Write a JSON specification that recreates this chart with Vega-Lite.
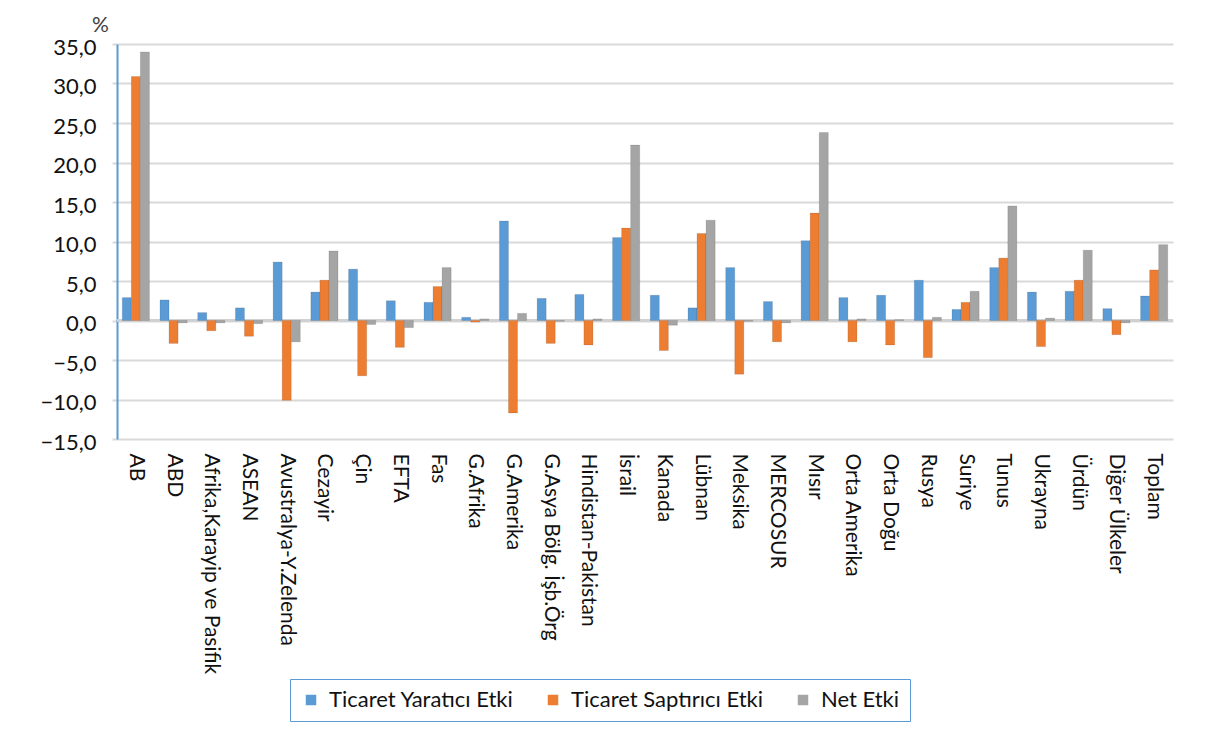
{
  "$schema": "https://vega.github.io/schema/vega-lite/v6.json",
  "width": 1056,
  "height": 395,
  "autosize": {"type": "none"},
  "padding": {"left": 117, "top": 44, "right": 42, "bottom": 299},
  "background": "white",
  "config": {
    "font": "Lato",
    "view": {"stroke": null}
  },
  "data": {
    "values": [
      {"Bölge": "AB", "Yaratici": 2.9, "Saptirici": 30.9, "Net": 34.0},
      {"Bölge": "ABD", "Yaratici": 2.6, "Saptirici": -2.9, "Net": -0.3},
      {"Bölge": "Afrika,Karayip ve Pasifik", "Yaratici": 1.0, "Saptirici": -1.3, "Net": -0.3},
      {"Bölge": "ASEAN", "Yaratici": 1.6, "Saptirici": -2.0, "Net": -0.4},
      {"Bölge": "Avustralya-Y.Zelenda", "Yaratici": 7.4, "Saptirici": -10.1, "Net": -2.7},
      {"Bölge": "Cezayir", "Yaratici": 3.6, "Saptirici": 5.1, "Net": 8.8},
      {"Bölge": "Çin", "Yaratici": 6.5, "Saptirici": -7.0, "Net": -0.5},
      {"Bölge": "EFTA", "Yaratici": 2.5, "Saptirici": -3.4, "Net": -0.9},
      {"Bölge": "Fas", "Yaratici": 2.3, "Saptirici": 4.3, "Net": 6.7},
      {"Bölge": "G.Afrika", "Yaratici": 0.4, "Saptirici": -0.2, "Net": 0.2},
      {"Bölge": "G.Amerika", "Yaratici": 12.6, "Saptirici": -11.7, "Net": 0.9},
      {"Bölge": "G.Asya Bölg. İşb.Örg", "Yaratici": 2.8, "Saptirici": -2.9, "Net": -0.1},
      {"Bölge": "Hindistan-Pakistan", "Yaratici": 3.3, "Saptirici": -3.1, "Net": 0.2},
      {"Bölge": "İsrail", "Yaratici": 10.5, "Saptirici": 11.7, "Net": 22.2},
      {"Bölge": "Kanada", "Yaratici": 3.2, "Saptirici": -3.8, "Net": -0.6},
      {"Bölge": "Lübnan", "Yaratici": 1.6, "Saptirici": 11.0, "Net": 12.7},
      {"Bölge": "Meksika", "Yaratici": 6.7, "Saptirici": -6.8, "Net": -0.1},
      {"Bölge": "MERCOSUR", "Yaratici": 2.4, "Saptirici": -2.7, "Net": -0.3},
      {"Bölge": "Mısır", "Yaratici": 10.1, "Saptirici": 13.6, "Net": 23.8},
      {"Bölge": "Orta Amerika", "Yaratici": 2.9, "Saptirici": -2.7, "Net": 0.2},
      {"Bölge": "Orta Doğu", "Yaratici": 3.2, "Saptirici": -3.1, "Net": 0.1},
      {"Bölge": "Rusya", "Yaratici": 5.1, "Saptirici": -4.7, "Net": 0.4},
      {"Bölge": "Suriye", "Yaratici": 1.4, "Saptirici": 2.3, "Net": 3.7},
      {"Bölge": "Tunus", "Yaratici": 6.7, "Saptirici": 7.9, "Net": 14.5},
      {"Bölge": "Ukrayna", "Yaratici": 3.6, "Saptirici": -3.3, "Net": 0.3},
      {"Bölge": "Ürdün", "Yaratici": 3.7, "Saptirici": 5.1, "Net": 8.9},
      {"Bölge": "Diğer Ülkeler", "Yaratici": 1.5, "Saptirici": -1.8, "Net": -0.3},
      {"Bölge": "Toplam", "Yaratici": 3.1, "Saptirici": 6.4, "Net": 9.6}
    ]
  },
  "layer": [
    {
      "mark": {"type": "rule", "color": "#d0d0d0", "strokeWidth": 2.5},
      "encoding": {"y": {"datum": 0, "type": "quantitative"}}
    },
    {
      "transform": [
        {"fold": ["Yaratici", "Saptirici", "Net"], "as": ["Etki", "Deger"]}
      ],
      "mark": {"type": "bar", "stroke": "#00000030", "strokeWidth": 0.6},
      "encoding": {
        "x": {
          "field": "Bölge",
          "type": "nominal",
          "sort": null,
          "title": null,
          "scale": {"paddingInner": 0.28, "paddingOuter": 0.14},
          "axis": {
            "labelAngle": 90,
            "labelFontSize": 21,
            "labelColor": "#111",
            "labelPadding": 14,
            "domain": false,
            "ticks": false,
            "grid": false,
            "labelLimit": 300
          }
        },
        "xOffset": {
          "field": "Etki",
          "type": "nominal",
          "sort": ["Yaratici", "Saptirici", "Net"],
          "scale": {"paddingInner": 0}
        },
        "y": {
          "field": "Deger",
          "type": "quantitative",
          "scale": {"domain": [-15, 35], "nice": false, "zero": false},
          "axis": {
            "values": [-15, -10, -5, 0, 5, 10, 15, 20, 25, 30, 35],
            "tickCount": 11,
            "labelExpr": "replace(format(datum.value, '.1f'), '.', ',')",
            "labelOverlap": false,
            "labelFontSize": 22,
            "labelColor": "#111",
            "labelPadding": 16,
            "labelOffset": 3,
            "grid": true,
            "gridColor": "#d9d9d9",
            "gridWidth": 2,
            "ticks": true,
            "tickColor": "#d9d9d9",
            "tickWidth": 2,
            "tickSize": 5,
            "domainColor": "#5b9bd5",
            "domainWidth": 2,
            "title": "%",
            "titleAngle": 0,
            "titleAlign": "center",
            "titleBaseline": "alphabetic",
            "titleX": -17,
            "titleY": -13,
            "titleFontSize": 21,
            "titleFontWeight": "normal",
            "titleColor": "#404040"
          }
        },
        "color": {
          "field": "Etki",
          "type": "nominal",
          "scale": {
            "domain": ["Yaratici", "Saptirici", "Net"],
            "range": ["#5b9bd5", "#ed7d31", "#a5a5a5"]
          },
          "legend": {
            "title": null,
            "orient": "none",
            "direction": "horizontal",
            "legendX": 173,
            "legendY": 635,
            "labelExpr": "datum.value == 'Yaratici' ? 'Ticaret Yaratıcı Etki' : datum.value == 'Saptirici' ? 'Ticaret Saptırıcı Etki' : 'Net Etki'",
            "symbolType": "square",
            "symbolSize": 110,
            "symbolStrokeWidth": 0,
            "labelFontSize": 22,
            "labelColor": "#111",
            "labelLimit": 400,
            "labelOffset": 7,
            "columnPadding": 28,
            "padding": 10,
            "strokeColor": "#5b9bd5"
          }
        }
      }
    }
  ]
}
